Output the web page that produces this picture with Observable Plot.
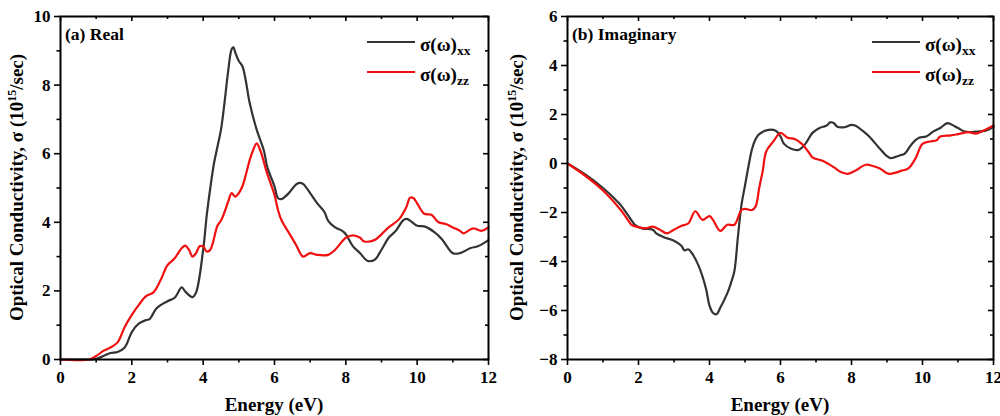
<!DOCTYPE html>
<html><head><meta charset="utf-8">
<script src="https://cdn.jsdelivr.net/npm/d3@7"></script>
<script src="https://cdn.jsdelivr.net/npm/@observablehq/plot@0.6"></script>
<style>body{margin:0;background:#fff}#row{display:flex;width:1000px;height:416px;overflow:hidden}
svg text{font-family:"Liberation Serif","Times New Roman",serif}
svg g[aria-label$="tick label"]{font-size:17px !important;font-weight:bold}</style>
</head><body><div id="row"></div>
<script>
// ---- data ----
const realXX_E = [0,0.5,0.9,1.0,1.2,1.4,1.6,1.8,2.0,2.2,2.4,2.5,2.7,3.0,3.2,3.4,3.5,3.7,3.8,4.0,4.1,4.2,4.3,4.4,4.5,4.6,4.7,4.8,4.85,4.9,5.0,5.1,5.2,5.3,5.5,5.7,5.8,6.0,6.1,6.2,6.4,6.6,6.7,6.8,7.0,7.2,7.4,7.5,7.7,7.9,8.0,8.2,8.4,8.6,8.8,9.0,9.2,9.4,9.6,9.7,9.8,10.0,10.2,10.5,10.7,11.0,11.2,11.5,11.7,12.0];
const realXX_S = [0,0,0,0.02,0.1,0.19,0.22,0.35,0.8,1.05,1.15,1.18,1.5,1.7,1.8,2.1,1.98,1.82,1.95,3.2,4.2,5.0,5.7,6.2,6.7,7.5,8.4,9.05,9.1,8.95,8.7,8.55,8.1,7.5,6.7,6.1,5.6,5.05,4.7,4.68,4.85,5.1,5.15,5.12,4.85,4.55,4.3,4.05,3.85,3.75,3.65,3.3,3.1,2.88,2.9,3.2,3.55,3.75,4.05,4.1,4.05,3.9,3.88,3.7,3.5,3.1,3.1,3.25,3.3,3.48];
const realZZ_E = [0,0.8,1.0,1.2,1.4,1.6,1.8,2.0,2.2,2.4,2.6,2.8,3.0,3.2,3.4,3.5,3.6,3.7,3.8,3.9,4.0,4.1,4.2,4.4,4.5,4.6,4.7,4.8,4.9,5.0,5.1,5.2,5.3,5.4,5.5,5.6,5.8,6.0,6.1,6.2,6.4,6.6,6.8,7.0,7.2,7.5,7.7,8.0,8.2,8.4,8.5,8.8,9.0,9.2,9.5,9.7,9.8,9.9,10.0,10.2,10.4,10.6,10.8,11.0,11.2,11.3,11.5,11.6,11.8,12.0];
const realZZ_S = [0,0,0.1,0.25,0.35,0.5,0.95,1.3,1.6,1.85,1.95,2.3,2.75,2.95,3.25,3.32,3.2,3.0,3.1,3.3,3.3,3.15,3.2,3.9,4.05,4.3,4.6,4.85,4.75,4.85,5.05,5.4,5.8,6.1,6.3,6.1,5.4,4.8,4.35,4.05,3.7,3.35,3.0,3.1,3.05,3.05,3.2,3.55,3.62,3.55,3.45,3.48,3.65,3.85,4.1,4.45,4.72,4.7,4.55,4.25,4.22,4.0,3.95,3.85,3.75,3.68,3.8,3.82,3.75,3.85];
const imagXX_E = [0,0.5,1.0,1.3,1.5,1.7,1.9,2.1,2.4,2.5,2.7,3.0,3.2,3.3,3.4,3.5,3.7,3.9,4.0,4.1,4.2,4.3,4.5,4.6,4.7,4.8,4.9,5.0,5.1,5.2,5.3,5.4,5.6,5.8,5.9,6.0,6.1,6.3,6.5,6.7,6.9,7.1,7.3,7.4,7.5,7.6,7.8,8.0,8.1,8.3,8.5,8.8,9.0,9.1,9.2,9.4,9.5,9.7,9.9,10.1,10.3,10.5,10.7,10.8,11.0,11.2,11.5,11.8,12.0];
const imagXX_S = [0,-0.45,-1.0,-1.4,-1.7,-2.1,-2.5,-2.65,-2.7,-2.85,-3.0,-3.15,-3.35,-3.55,-3.5,-3.65,-4.2,-5.1,-5.8,-6.1,-6.15,-5.9,-5.3,-4.9,-4.4,-3.0,-1.7,-0.9,-0.1,0.6,1.0,1.2,1.35,1.37,1.3,1.1,0.8,0.6,0.55,0.8,1.25,1.45,1.55,1.68,1.65,1.5,1.48,1.58,1.55,1.35,1.1,0.6,0.3,0.22,0.25,0.35,0.4,0.8,1.05,1.1,1.3,1.45,1.65,1.6,1.45,1.3,1.3,1.35,1.5];
const imagZZ_E = [0,0.5,1.0,1.5,1.7,1.8,2.0,2.2,2.4,2.6,2.8,3.0,3.2,3.4,3.6,3.8,4.0,4.1,4.3,4.5,4.7,4.9,5.0,5.2,5.3,5.4,5.5,5.6,5.8,6.0,6.2,6.4,6.6,6.8,6.9,7.2,7.5,7.7,7.9,8.1,8.4,8.6,8.8,9.0,9.1,9.4,9.6,9.8,10.0,10.2,10.4,10.5,10.8,11.0,11.3,11.5,11.8,12.0];
const imagZZ_S = [0,-0.5,-1.1,-1.9,-2.3,-2.5,-2.6,-2.65,-2.58,-2.7,-2.85,-2.7,-2.55,-2.45,-1.95,-2.3,-2.15,-2.3,-2.75,-2.5,-2.5,-1.9,-1.85,-1.9,-1.75,-1.0,-0.3,0.5,0.9,1.25,1.05,1.0,0.8,0.45,0.25,0.1,-0.15,-0.35,-0.42,-0.3,-0.05,-0.1,-0.2,-0.4,-0.42,-0.3,-0.2,0.2,0.8,0.9,0.95,1.1,1.15,1.2,1.28,1.22,1.4,1.55];

const xMajor = [0,2,4,6,8,10,12];
const xMinor = [1,3,5,7,9,11];
const realYMajor = [0,2,4,6,8,10];
const realYMinor = [1,3,5,7,9];
const imagYMajor = [-8,-6,-4,-2,0,2,4,6];
const imagYMinor = [-7,-5,-3,-1,1,3,5];

const seriesLabels = ["xx","zz"];
const seriesColors = ["#333333","#f01010"];
const panelTags = ["(a) Real","(b) Imaginary"];
const xTitle = "Energy (eV)";

function rows(E,S){ return E.map((e,i)=>({e, s:S[i]})); }

const FONT = "Liberation Serif";

function panel({ml, mr, yDomain, yMajor, yMinor, xx, zz, tag, legendX}) {
  const W=500, H=416, mt=16, mb=57;
  const ph = H-mt-mb, pw = W-ml-mr;
  const svg = Plot.plot({
    width: W, height: H, marginLeft: ml, marginRight: mr, marginTop: mt, marginBottom: mb,
    style: {fontFamily: FONT, fontWeight: "bold", fontSize: "16px", color: "#000", background: "#fff", overflow: "visible"},
    x: {domain: [0,12]},
    y: {domain: yDomain},
    marks: [
      Plot.line(xx, {x:"e", y:"s", stroke: seriesColors[0], strokeWidth: 2.2, curve: "catmull-rom"}),
      Plot.line(zz, {x:"e", y:"s", stroke: seriesColors[1], strokeWidth: 2.2, curve: "catmull-rom"}),
      Plot.axisX({ticks: xMajor, tickSize: 6, tickPadding: 5, fontSize: 17, fontWeight: "bold", label: null, strokeWidth: 1.6, tickFormat: d3.format("d")}),
      Plot.axisX({ticks: xMinor, tickSize: 3.5, text: null, label: null, strokeWidth: 1.6}),
      Plot.axisY({ticks: yMajor, tickSize: 6, tickPadding: 4, fontSize: 17, fontWeight: "bold", label: null, strokeWidth: 1.6}),
      Plot.axisY({ticks: yMinor, tickSize: 3.5, text: null, label: null, strokeWidth: 1.6}),
      Plot.tickX(xMajor, {x: d=>d, insetBottom: ph-5, strokeWidth: 1.6}),
      Plot.tickX(xMinor, {x: d=>d, insetBottom: ph-3, strokeWidth: 1.6}),
      Plot.tickY(yMajor, {y: d=>d, insetLeft: pw-5, strokeWidth: 1.6}),
      Plot.tickY(yMinor, {y: d=>d, insetLeft: pw-3, strokeWidth: 1.6}),
      Plot.frame({stroke: "#000", strokeWidth: 2})
    ]
  });
  const s = d3.select(svg);
  const yt = s.append("text")
    .attr("transform", `translate(23,${mt+ph/2}) rotate(-90)`)
    .attr("text-anchor","middle").attr("font-weight","bold").attr("font-size",19).attr("fill","#000");
  yt.append("tspan").text("Optical Conductivity, σ (10");
  yt.append("tspan").attr("dy",-7).attr("font-size",12).text("15");
  yt.append("tspan").attr("dy",7).text("/sec)");
  s.append("text").attr("x", ml+pw/2).attr("y", 411).attr("text-anchor","middle")
    .attr("font-weight","bold").attr("font-size",19).attr("fill","#000").text(xTitle);
  s.append("text").attr("x", ml+5).attr("y", 40).attr("text-anchor","start")
    .attr("font-weight","bold").attr("font-size",17.5).attr("fill","#000").text(tag);
  seriesLabels.forEach((lab,i)=>{
    const y = 42 + i*30;
    s.append("line").attr("x1",legendX).attr("x2",legendX+48).attr("y1",y).attr("y2",y)
      .attr("stroke",seriesColors[i]).attr("stroke-width",2.2);
    const t = s.append("text").attr("x",legendX+53).attr("y",y+9).attr("text-anchor","start")
      .attr("font-weight","bold").attr("font-size",19).attr("fill","#000");
    t.append("tspan").text("σ(ω)");
    t.append("tspan").attr("dy",4).attr("font-size",13.5).text(lab);
  });
  return svg;
}

const row = document.getElementById("row");
row.appendChild(panel({ml:60, mr:12, yDomain:[0,10], yMajor: realYMajor, yMinor: realYMinor,
  xx: rows(realXX_E, realXX_S), zz: rows(realZZ_E, realZZ_S), tag: panelTags[0], legendX: 367}));
row.appendChild(panel({ml:67, mr:7, yDomain:[-8,6], yMajor: imagYMajor, yMinor: imagYMinor,
  xx: rows(imagXX_E, imagXX_S), zz: rows(imagZZ_E, imagZZ_S), tag: panelTags[1], legendX: 372}));
</script></body></html>
